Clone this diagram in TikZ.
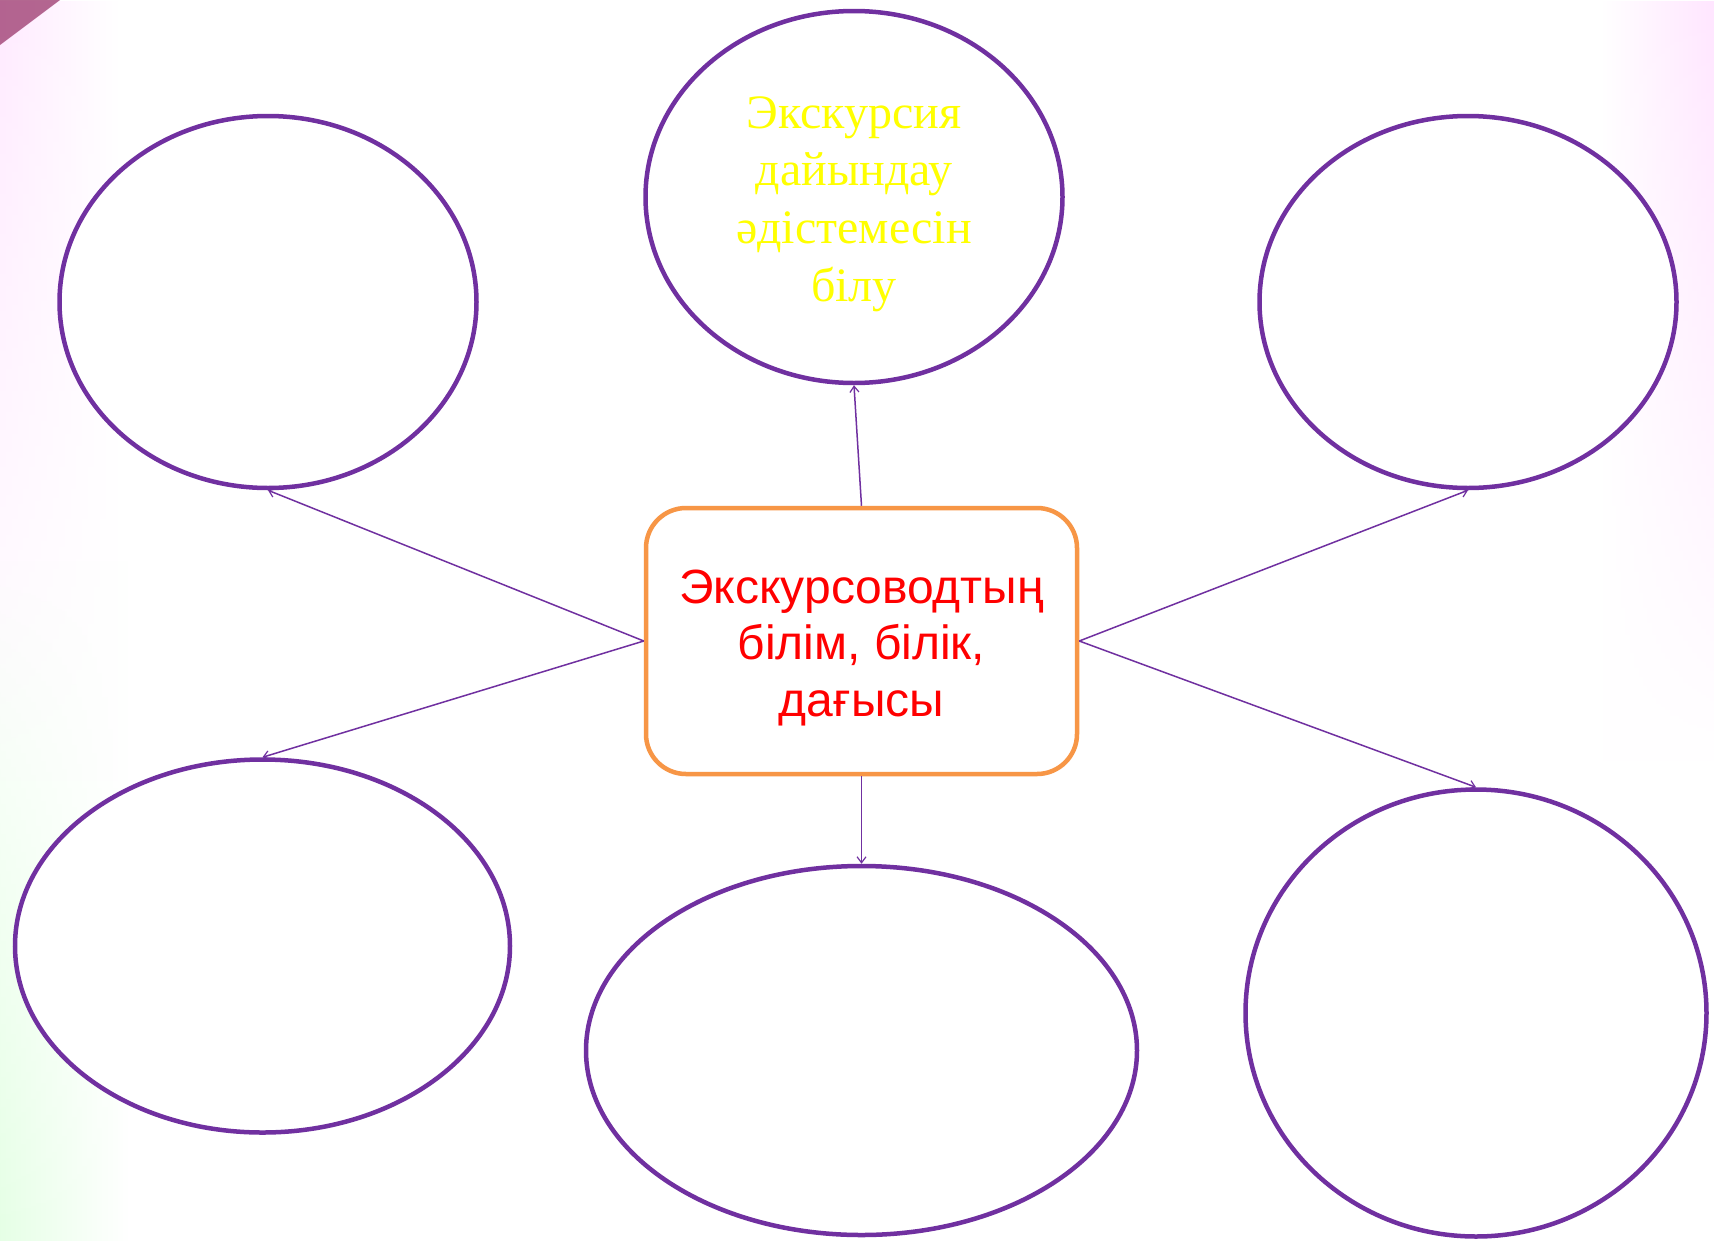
\documentclass[tikz,border=0pt]{standalone}
\usepackage{fontspec}
\setmainfont{Liberation Serif}
\newfontfamily\arialf{Liberation Sans}
\usetikzlibrary{arrows.meta,shapes.geometric,fadings}
\definecolor{vio}{HTML}{7030A0}
\definecolor{orng}{HTML}{F79646}
\definecolor{redt}{HTML}{FF0000}
\definecolor{yelt}{HTML}{FFFF00}
\begin{document}
\begin{tikzpicture}[x=1pt,y=-1pt,
  bubble/.style={draw=vio,line width=4.5pt,ellipse,inner sep=0pt,fill=white},
  hub/.style={draw=orng,line width=4.5pt,rounded corners=40pt,fill=white,
    minimum width=431pt,minimum height=266pt,inner sep=0pt},
  link/.style={draw=vio,line width=1.5pt,-{Straight Barb[length=6pt,width=9pt,line width=1.2pt]}}]
\useasboundingbox (0,0) rectangle (1714,1240);
\fill[white] (0,0) rectangle (1714,1240);
% faint background decoration at the edges
\shade[left color=green!10!white,right color=white,path fading=north] (0,560) rectangle (130,1240);
\shade[left color=magenta!8!white,right color=white,path fading=south] (0,0) rectangle (120,780);
\shade[left color=white,right color=magenta!10!white,path fading=south] (1600,0) rectangle (1714,760);
\fill[magenta!60!black,opacity=0.8] (0,0) -- (60,0) -- (0,45) -- cycle;
% nodes
\node[bubble,minimum width=417pt,minimum height=372pt] (top) at (854,197) {};
\node[align=center,text=yelt,font=\fontsize{48}{57.6}\selectfont] (toptext) at (854,204)
  {Экскурсия\\дайындау\\әдістемесін\\білу};
\node[bubble,minimum width=417pt,minimum height=372pt] (tl) at (268,302) {};
\node[bubble,minimum width=417pt,minimum height=372pt] (tr) at (1468,302) {};
\node[bubble,minimum width=495pt,minimum height=373pt] (bl) at (262.5,946) {};
\node[bubble,minimum width=551pt,minimum height=369pt] (bm) at (861.5,1050.5) {};
\node[bubble,minimum width=461pt,minimum height=447pt] (br) at (1476,1013) {};
\node[hub] (hub) at (861.5,641) {};
\node[align=center,text=redt,font=\arialf\fontsize{48}{56.5}\selectfont] (hubtext) at (861.5,648)
  {Экскурсоводтың\\білім, білік,\\дағысы};
% connectors
\draw[link] (hub.north) -- (top.south);
\draw[link] (hub.west) -- (tl.south);
\draw[link] (hub.east) -- (tr.south);
\draw[link] (hub.west) -- (bl.north);
\draw[link] (hub.south) -- (bm.north);
\draw[link] (hub.east) -- (br.north);
\end{tikzpicture}
\end{document}
